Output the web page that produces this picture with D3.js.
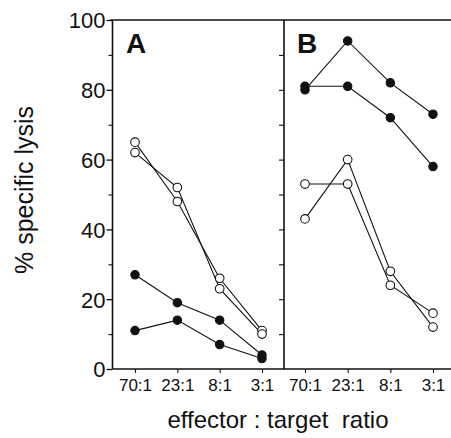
<!DOCTYPE html>
<html>
<head>
<meta charset="utf-8">
<script src="https://cdn.jsdelivr.net/npm/d3@7"></script>
<style>
  body { margin: 0; background: #fff; }
  svg text { font-family: "Liberation Sans", Arial, Helvetica, sans-serif; fill: #111; }
</style>
</head>
<body>
<div id="chart"></div>
<script>
// ratios on the x axis (same for both panels)
var ratios = ["70:1", "23:1", "8:1", "3:1"];

// panel A
var aOpen1 = [65, 48, 26, 11];
var aOpen2 = [62, 52, 23, 10];
var aFilled1 = [27, 19, 14, 4];
var aFilled2 = [11, 14, 7, 3];

// panel B
var bFilled1 = [80, 94, 82, 73];
var bFilled2 = [81, 81, 72, 58];
var bOpen1 = [43, 60, 28, 12];
var bOpen2 = [53, 53, 24, 16];

var yTicks = [0, 20, 40, 60, 80, 100];
var yMinor = [10, 30, 50, 70, 90];

var width = 451, height = 438;

var svg = d3.select("#chart").append("svg")
    .attr("width", width)
    .attr("height", height);

// shared y scale
var y = d3.scaleLinear().domain([0, 100]).range([369, 20]);

// one point scale per panel
var xA = d3.scalePoint().domain(ratios).range([135, 262]);
var xB = d3.scalePoint().domain(ratios).range([305, 433]);

var left = 112.5, divider = 284, right = 451;

// frame
var frame = svg.append("g")
    .attr("stroke", "#111")
    .attr("stroke-width", 1.6)
    .attr("fill", "none");
frame.append("line").attr("x1", left).attr("x2", left).attr("y1", y(100)).attr("y2", y(0));
frame.append("line").attr("x1", divider).attr("x2", divider).attr("y1", y(100)).attr("y2", y(0));
frame.append("line").attr("x1", left - 2).attr("x2", right).attr("y1", y(100)).attr("y2", y(100));
frame.append("line").attr("x1", left).attr("x2", right).attr("y1", y(0)).attr("y2", y(0));

// left y axis: long ticks with labels, short minor ticks
var yAxis = svg.append("g")
    .attr("transform", "translate(" + left + ",0)")
    .call(d3.axisLeft(y).tickValues(yTicks).tickSize(6).tickPadding(1).tickFormat(d3.format("d")));
yAxis.select(".domain").remove();
yAxis.selectAll("text").style("font-size", "22px").attr("dy", "0.36em");
yAxis.selectAll("line").attr("stroke", "#111").attr("stroke-width", 1.3);

var yAxisMinor = svg.append("g")
    .attr("transform", "translate(" + left + ",0)")
    .call(d3.axisLeft(y).tickValues(yMinor).tickSize(4).tickFormat(""));
yAxisMinor.select(".domain").remove();
yAxisMinor.selectAll("line").attr("stroke", "#111").attr("stroke-width", 1.1);

// divider ticks pointing into panel A
var yDiv = svg.append("g")
    .attr("transform", "translate(" + divider + ",0)")
    .call(d3.axisLeft(y).tickValues(d3.range(10, 100, 10)).tickSize(5).tickFormat(""));
yDiv.select(".domain").remove();
yDiv.selectAll("line").attr("stroke", "#111").attr("stroke-width", 1.1);

// x axes
[xA, xB].forEach(function(x) {
    var g = svg.append("g")
        .attr("transform", "translate(0," + y(0) + ")")
        .call(d3.axisBottom(x).tickSize(4).tickPadding(6));
    g.select(".domain").remove();
    g.selectAll("line").attr("stroke", "#111").attr("stroke-width", 1.1);
    g.selectAll("text").style("font-size", "17px").attr("dy", "0.71em");
});

// series
var series = [
    {x: xA, values: aOpen1, filled: false},
    {x: xA, values: aOpen2, filled: false},
    {x: xA, values: aFilled1, filled: true},
    {x: xA, values: aFilled2, filled: true},
    {x: xB, values: bFilled1, filled: true},
    {x: xB, values: bFilled2, filled: true},
    {x: xB, values: bOpen1, filled: false},
    {x: xB, values: bOpen2, filled: false}
];

series.forEach(function(s) {
    var pts = s.values.map(function(v, i) { return [s.x(ratios[i]), y(v)]; });
    svg.append("path")
        .datum(pts)
        .attr("fill", "none")
        .attr("stroke", "#111")
        .attr("stroke-width", 1.1)
        .attr("d", d3.line());
});

series.forEach(function(s) {
    svg.selectAll(null)
        .data(s.values)
        .enter().append("circle")
        .attr("cx", function(d, i) { return s.x(ratios[i]); })
        .attr("cy", function(d) { return y(d); })
        .attr("r", s.filled ? 4.2 : 4.3)
        .attr("fill", s.filled ? "#111" : "#fff")
        .attr("stroke", "#111")
        .attr("stroke-width", 1.1);
});

// panel letters
svg.append("text").attr("x", 126).attr("y", 53)
    .style("font-size", "28px").style("font-weight", "bold").text("A");
svg.append("text").attr("x", 297).attr("y", 53)
    .style("font-size", "28px").style("font-weight", "bold").text("B");

// axis titles
svg.append("text")
    .attr("transform", "translate(33,190) rotate(-90)")
    .attr("text-anchor", "middle")
    .style("font-size", "25px")
    .text("% specific lysis");

svg.append("text")
    .attr("x", 278).attr("y", 428)
    .attr("text-anchor", "middle")
    .style("font-size", "24px")
    .style("white-space", "pre")
    .attr("xml:space", "preserve")
    .text("effector : target  ratio");
</script>
</body>
</html>
